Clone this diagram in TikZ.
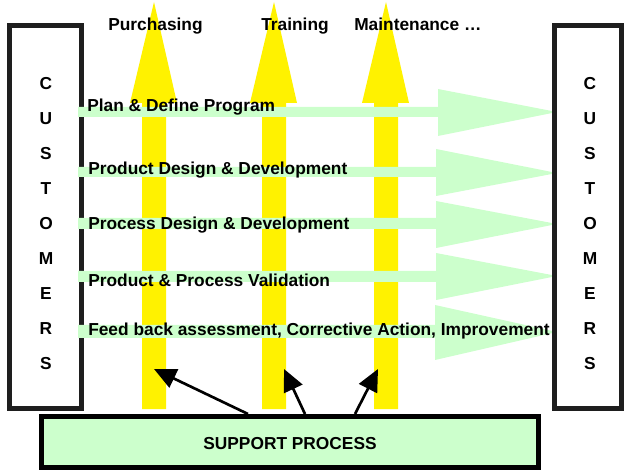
\documentclass[tikz,border=0pt]{standalone}
\usepackage{fontspec}
\setmainfont{Liberation Sans}
\usetikzlibrary{arrows.meta}
\definecolor{flowgreen}{HTML}{CCFFCC}
\definecolor{boxline}{HTML}{1E1E1E}
\begin{document}
\begin{tikzpicture}[x=0.75pt,y=-0.75pt,
  label/.style={inner sep=0pt,anchor=base west,font=\fontsize{13}{15}\selectfont\bfseries},
  letter/.style={inner sep=0pt,anchor=base,font=\fontsize{13}{15}\selectfont\bfseries},
  custbox/.style={draw=boxline,line width=3.75pt,fill=white,minimum height=287.25pt},
  supportbox/.style={draw=black,line width=3.75pt,fill=flowgreen,minimum width=372.75pt,minimum height=38.25pt},
  yellowarrow/.style={fill=yellow,draw=none},
  greenarrow/.style={fill=flowgreen,draw=none},
  feed/.style={line width=2pt,-{Triangle[length=16.5pt,width=15pt]}}]
\useasboundingbox (0,0) rectangle (625,470);

% customers on the left
\node[custbox,minimum width=54pt] (custL) at (45.5,217) {};

% upward support streams
\foreach \c/\n in {154/ya,274/yb,386/yc}{
  \fill[yellowarrow] (\c-12,409) -- (\c-12,103) -- (\c-24,103) -- (\c,2)
    -- (\c+23,103) -- (\c+12,103) -- (\c+12,409) -- cycle;
}

% process flows towards the customers
\foreach \sa/\sb/\ha/\hb/\tip/\hx in {107/117/89/136/112/438,
                                      167/177/149/196/173/436,
                                      218/229/201/248/224/436,
                                      271/282/253/300/276/436,
                                      325/338/305/360/332/435}{
  \fill[greenarrow] (78,\sa) -- (\hx,\sa) -- (\hx,\ha) -- (557,\tip)
    -- (\hx,\hb) -- (\hx,\sb) -- (78,\sb) -- cycle;
}

% customers on the right
\node[custbox,minimum width=50.25pt] (custR) at (588,217) {};

% vertical lettering in both customer boxes
\foreach \l [count=\k from 0] in {C,U,S,T,O,M,E,R,S}{
  \node[letter] at (46,90+34.9*\k) {\l};
  \node[letter] at (590,90+34.9*\k) {\l};
}

% stream titles
\node[label] (tp) at (108,31) {Purchasing};
\node[label] (tt) at (261,31) {Training};
\node[label] (tm) at (354,31) {Maintenance …};

% flow labels
\node[label] (f1) at (87,112) {Plan \& Define Program};
\node[label] (f2) at (88,175) {Product Design \& Development};
\node[label] (f3) at (88,230) {Process Design \& Development};
\node[label] (f4) at (88,287) {Product \& Process Validation};
\node[label] (f5) at (88,335) {Feed back assessment, Corrective Action, Improvement};

% support process box
\node[supportbox] (support) at (290,442) {};
\node[letter] (suptext) at (290,449) {SUPPORT PROCESS};

% support feeding the streams
\coordinate (s1) at (248,414);
\coordinate (s2) at (305,414);
\coordinate (s3) at (355,414);
\coordinate (t1) at (154,369);
\coordinate (t2) at (284,369);
\coordinate (t3) at (378,369);
\draw[feed] (s1) -- (t1);
\draw[feed] (s2) -- (t2);
\draw[feed] (s3) -- (t3);
\end{tikzpicture}
\end{document}
